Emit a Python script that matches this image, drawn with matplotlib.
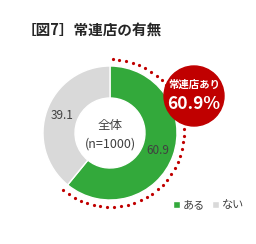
import numpy as np
import matplotlib
matplotlib.use('Agg')
from matplotlib import pyplot as plt
from matplotlib.patches import Circle

plt.rcParams['font.family'] = ['Noto Sans CJK JP', 'DejaVu Sans']

labels = ['ある', 'ない']
values = [60.9, 39.1]
colors = ['#33a93b', '#d9d9d9']
title = '［図7］常連店の有無'
center_text = ['全体', '(n=1000)']
callout = ['常連店あり', '60.9%']

W, H = 256, 244
fig = plt.figure(figsize=(W / 100, H / 100), dpi=100)
ax = fig.add_axes([0, 0, 1, 1])

cx, cy, r = 110, H - 133, 67
wedges, _ = ax.pie(values, colors=colors, startangle=90, counterclock=False,
                   center=(cx, cy), radius=r, frame=True,
                   wedgeprops=dict(width=32, edgecolor='white', linewidth=1))
ax.set_xlim(0, W)
ax.set_ylim(0, H)
ax.set_aspect('equal')
ax.axis('off')

# value labels in the ring
start = 90
for v, w in zip(values, wedges):
    mid = np.deg2rad(start - v * 3.6 / 2)
    rr = r - 16
    ax.text(cx + rr * np.cos(mid), cy + rr * np.sin(mid), f'{v:.1f}',
            ha='center', va='center', fontsize=8.5, color='#404040')
    start -= v * 3.6

ax.text(cx, cy + 8, center_text[0], ha='center', va='center', fontsize=9, color='#404040')
ax.text(cx, cy - 11, center_text[1], ha='center', va='center', fontsize=9, color='#404040')

# dotted arc around the "ある" part
ra = 74
t = np.deg2rad(np.linspace(88, 90 - values[0] * 3.6, 42))
ax.plot(cx + ra * np.cos(t), cy + ra * np.sin(t), 'o', color='#c00000',
        markersize=2.3, markeredgewidth=0)

# callout circle
ax.add_patch(Circle((194, H - 96), 30, color='#c00000', zorder=5))
ax.text(194, H - 85, callout[0], ha='center', va='center', fontsize=7.5,
        color='white', fontweight='bold', zorder=6)
ax.text(194, H - 104, callout[1], ha='center', va='center', fontsize=12.5,
        color='white', fontweight='bold', zorder=6)

ax.text(22, H - 30, title, ha='left', va='center', fontsize=10.5,
        fontweight='bold', color='#262626')

# legend
ax.legend(wedges, labels, loc='center left', bbox_to_anchor=(163 / W, (H - 205) / H),
          ncol=2, frameon=False, fontsize=8, handlelength=0.6, handleheight=0.6,
          handletextpad=0.3, columnspacing=0.6, labelcolor='#404040')

fig.savefig('out.png', dpi=100)
